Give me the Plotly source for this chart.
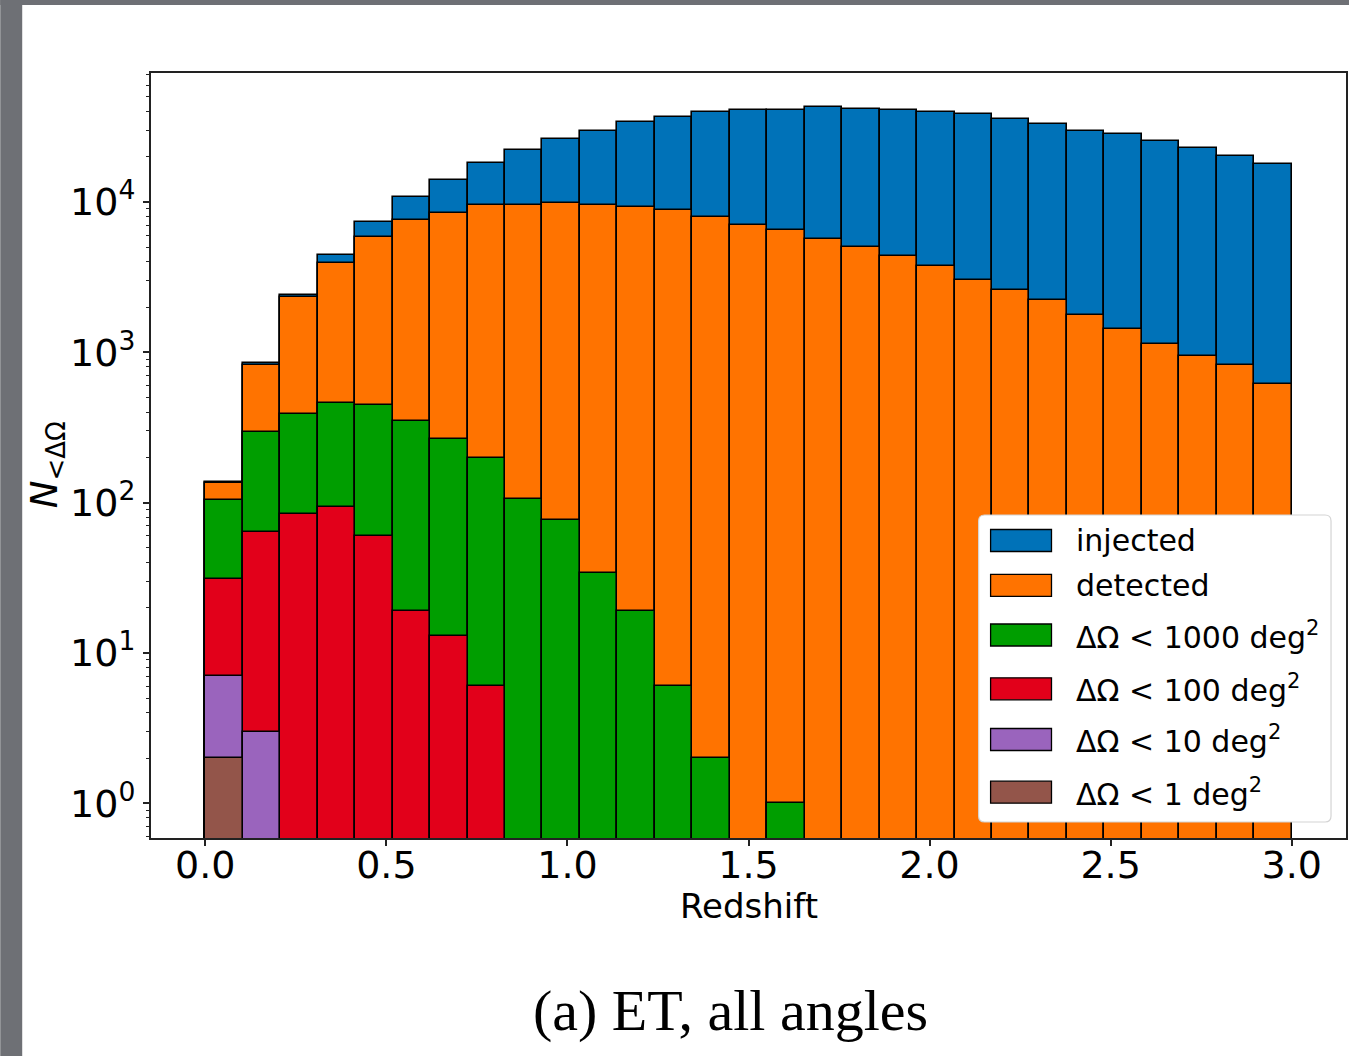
import numpy as np
import plotly.graph_objects as go

# ---- data: counts per redshift bin (29 equal bins between z = 0 and z = 3) ----
z_min, z_max, n_bins = 0.0, 3.0, 29

injected = [137, 855, 2420, 4420, 7360, 10800, 14100, 18100, 22100, 26400,
            29700, 34000, 36800, 39700, 41100, 40700, 42800, 41300, 41100, 39700,
            38300, 35500, 32900, 29500, 28500, 25300, 22700, 20200, 18000]
detected = [135, 820, 2330, 3900, 5850, 7640, 8510, 9610, 9550, 9860,
            9610, 9270, 8900, 7940, 7080, 6550, 5650, 5020, 4360, 3760,
            3020, 2590, 2240, 1780, 1430, 1140, 946, 821, 611]
area_lt_1000 = [104, 296, 386, 461, 447, 347, 264, 197, 105, 77,
                34, 19, 6, 2, 0, 1, 0, 0, 0, 0,
                0, 0, 0, 0, 0, 0, 0, 0, 0]
area_lt_100 = [31, 64, 84, 94, 60, 19, 13, 6, 0, 0,
               0, 0, 0, 0, 0, 0, 0, 0, 0, 0,
               0, 0, 0, 0, 0, 0, 0, 0, 0]
area_lt_10 = [7, 3] + [0] * 27
area_lt_1 = [2] + [0] * 28

labels = ["injected", "detected",
          "ΔΩ < 1000 deg<sup>2</sup>", "ΔΩ < 100 deg<sup>2</sup>",
          "ΔΩ < 10 deg<sup>2</sup>", "ΔΩ < 1 deg<sup>2</sup>"]
colors = ["#0072b8", "#ff7300", "#009e00", "#e2001a", "#9a64bd", "#93554a"]
counts_all = [injected, detected, area_lt_1000, area_lt_100, area_lt_10, area_lt_1]

x_ticks = [0.0, 0.5, 1.0, 1.5, 2.0, 2.5, 3.0]
y_ticks = [1, 10, 100, 1000, 10000]

# ---- page geometry (pixels) ----
W, H = 1351, 1056
L, R, T, B = 151, 3, 73, 218
PW, PH = W - L - R, H - T - B


def px(x):
    return (x - L) / PW


def py(y):
    return (H - B - y) / PH


edges = np.linspace(z_min, z_max, n_bins + 1)
centers = 0.5 * (edges[:-1] + edges[1:])
width = edges[1] - edges[0]

fig = go.Figure()
for name, color, counts in zip(labels, colors, counts_all):
    fig.add_trace(go.Bar(
        x=centers,
        y=[c if c > 0 else None for c in counts],
        width=width,
        name=name,
        showlegend=False,
        marker=dict(color=color, line=dict(color="black", width=1.6)),
    ))

axis_font = dict(family="DejaVu Sans", size=38, color="black")
minor_vals = [m * 10 ** e for e in range(-1, 5) for m in range(2, 10)]

fig.update_layout(
    width=W, height=H,
    margin=dict(l=L, r=R, t=T, b=B, pad=0),
    paper_bgcolor="white", plot_bgcolor="white",
    barmode="overlay", bargap=0,
    xaxis=dict(
        range=[-0.15, 3.15],
        tickvals=x_ticks, ticktext=[f"{v:.1f}" for v in x_ticks],
        ticks="outside", ticklen=6, tickwidth=1.5, tickcolor="#222",
        ticklabelstandoff=-14,
        showline=True, mirror=True, linewidth=2, linecolor="#222",
        showgrid=False, zeroline=False, tickfont=axis_font,
    ),
    yaxis=dict(
        type="log", range=[-0.231, 4.858],
        tickvals=y_ticks, ticktext=[f"10<sup>{int(np.log10(v))}</sup>" for v in y_ticks],
        ticks="outside", ticklen=6, tickwidth=1.5, tickcolor="#222",
        minor=dict(ticks="outside", ticklen=3.5, tickwidth=1.2, tickcolor="#222",
                   tickvals=minor_vals, showgrid=False),
        showline=True, mirror=True, linewidth=2, linecolor="#222",
        showgrid=False, zeroline=False, tickfont=axis_font,
    ),
)

# ---- surrounding backdrop strips ----
fig.add_shape(type="rect", xref="paper", yref="paper", layer="below",
              x0=px(0), x1=px(22), y0=py(H), y1=py(0),
              fillcolor="#6e7075", line=dict(width=0))
fig.add_shape(type="rect", xref="paper", yref="paper", layer="below",
              x0=px(0), x1=px(W), y0=py(5), y1=py(0),
              fillcolor="#6e7075", line=dict(width=0))

annotations = []
# axis titles and caption
annotations.append(dict(text="Redshift", x=px(750.5), y=py(906), xref="paper", yref="paper",
                        showarrow=False, xanchor="center", yanchor="middle",
                        font=dict(family="DejaVu Sans", size=34, color="black")))
annotations.append(dict(text="<i>N</i><sub>&lt;ΔΩ</sub>", x=px(47), y=py(465), xref="paper", yref="paper",
                        showarrow=False, xanchor="center", yanchor="middle", textangle=-90,
                        font=dict(family="DejaVu Sans", size=37, color="black")))
annotations.append(dict(text="(a) ET, all angles", x=px(731), y=py(1010), xref="paper", yref="paper",
                        showarrow=False, xanchor="center", yanchor="middle",
                        font=dict(family="Liberation Serif", size=58, color="black")))

# ---- legend box ----
lx0, lx1, ly0, ly1, r = 980, 1333, 515, 822, 6
frame = (f"M {px(lx0 + r)},{py(ly0)} L {px(lx1 - r)},{py(ly0)} "
         f"Q {px(lx1)},{py(ly0)} {px(lx1)},{py(ly0 + r)} "
         f"L {px(lx1)},{py(ly1 - r)} Q {px(lx1)},{py(ly1)} {px(lx1 - r)},{py(ly1)} "
         f"L {px(lx0 + r)},{py(ly1)} Q {px(lx0)},{py(ly1)} {px(lx0)},{py(ly1 - r)} "
         f"L {px(lx0)},{py(ly0 + r)} Q {px(lx0)},{py(ly0)} {px(lx0 + r)},{py(ly0)} Z")
fig.add_shape(type="path", path=frame, xref="paper", yref="paper",
              fillcolor="white", line=dict(color="#d4d4d4", width=1.2))

row_centers = [540.5, 585.3, 635, 688.8, 739.5, 792.2]
for name, color, yc in zip(labels, colors, row_centers):
    fig.add_shape(type="rect", xref="paper", yref="paper",
                  x0=px(992), x1=px(1053), y0=py(yc + 11), y1=py(yc - 11),
                  fillcolor=color, line=dict(color="black", width=1.3))
    annotations.append(dict(text=name, x=px(1076), y=py(yc), xref="paper", yref="paper",
                            showarrow=False, xanchor="left", yanchor="middle",
                            font=dict(family="DejaVu Sans", size=30, color="black")))

fig.update_layout(annotations=annotations)
fig.write_html("out.html")
